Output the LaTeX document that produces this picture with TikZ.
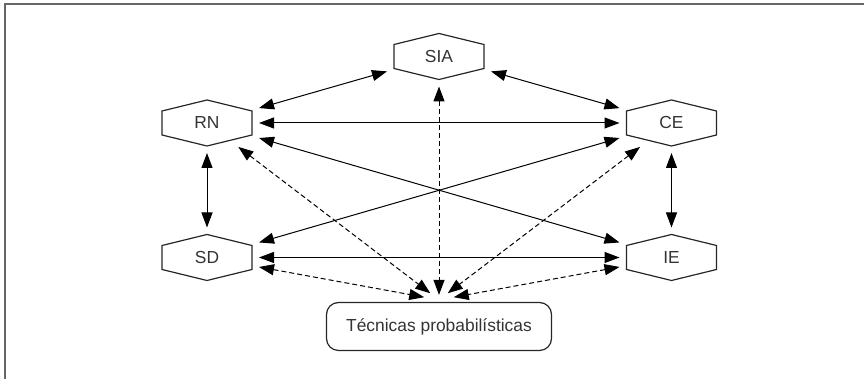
\documentclass[tikz,border=0pt]{standalone}
\usepackage{fontspec}
\setmainfont{Liberation Sans}
\usetikzlibrary{arrows.meta, positioning}

\begin{document}
\begin{tikzpicture}[
    x=0.5pt, y=0.5pt,
    % Node styles
    hexnode/.style={
        rectangle, minimum width=45pt, minimum height=23pt,
        inner sep=0pt, outer sep=3.5pt, text=black!80,
        font=\fontsize{8.7}{10}\selectfont,
    },
    tech/.style={
        rectangle, rounded corners=6pt, draw=black!85, line width=0.6pt,
        minimum width=112.5pt, minimum height=24pt, text=black!80,
        font=\fontsize{8.7}{10}\selectfont,
    },
    % Edge styles
    link/.style={
        draw, line width=0.5pt, <->,
        >={Triangle[length=7.5pt, width=5.5pt]},
    },
    dlink/.style={
        link, dash pattern=on 2.5pt off 1.5pt,
    },
]
\useasboundingbox (0,0) rectangle (864,379);
% frame
\draw[black!60, line width=1pt] (4.5,0) -- (4.5,375) -- (864,375);

\node[hexnode] (SIA) at (439,322.5) {SIA};
\node[hexnode] (RN) at (207,256) {RN};
\node[hexnode] (CE) at (671.5,256) {CE};
\node[hexnode] (SD) at (207,121.5) {SD};
\node[hexnode] (IE) at (671.5,121.5) {IE};
\node[tech] (TP) at (439,52.5) {Técnicas probabilísticas};
\coordinate[above=1pt of TP] (hub);

% hexagon outlines
\foreach \n in {SIA,RN,CE,SD,IE}
  \draw[black!85, line width=0.6pt]
    ([shift={(-45,-12)}]\n.center) -- ([shift={(-45,12)}]\n.center)
    -- ([shift={(0,23)}]\n.center) -- ([shift={(45,12)}]\n.center)
    -- ([shift={(45,-12)}]\n.center) -- ([shift={(0,-23)}]\n.center) -- cycle;

% solid links
\foreach \a/\b in {RN/SIA, SIA/CE, RN/CE, RN/IE, CE/SD, SD/IE, RN/SD, CE/IE}
  \draw[link] (\a) -- (\b);

% dashed links to the techniques box
\foreach \n/\s/\e in {SIA/0pt/2.5pt, RN/-5pt/5.5pt, CE/-5pt/5.5pt, SD/0pt/7.5pt, IE/0pt/7.5pt}
  \draw[dlink, shorten <=\s, shorten >=\e] (\n) -- (hub);

\end{tikzpicture}
\end{document}
